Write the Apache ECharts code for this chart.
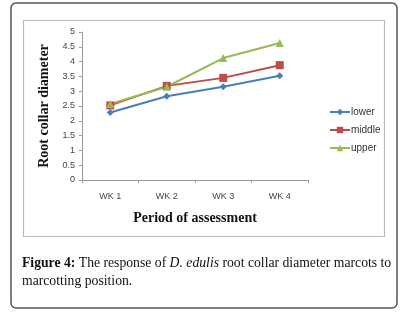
<!DOCTYPE html>
<html>
<head>
<meta charset="utf-8">
<script src="https://cdn.jsdelivr.net/npm/echarts@6/dist/echarts.min.js"></script>
<style>
html, body { margin: 0; padding: 0; background: #fff; }
#chart { width: 402px; height: 314px; }
</style>
</head>
<body>
<div id="chart"></div>
<script>
var weeks = ['WK 1', 'WK 2', 'WK 3', 'WK 4'];
var lowerVals = [2.28, 2.83, 3.15, 3.52];
var middleVals = [2.52, 3.18, 3.45, 3.88];
var upperVals = [2.57, 3.15, 4.12, 4.63];

function makeSeries(name, data, color, symbol, size) {
    return {
        name: name,
        type: 'line',
        data: data,
        symbol: symbol,
        symbolSize: size,
        lineStyle: { color: color, width: 2 },
        itemStyle: { color: color },
        emphasis: { disabled: true }
    };
}

var chart = echarts.init(document.getElementById('chart'));
var option = {
    animation: false,
    textStyle: { fontFamily: 'Liberation Sans' },
    graphic: [
        {
            type: 'rect',
            shape: { x: 11, y: 3, width: 386, height: 305, r: 5 },
            style: { fill: 'none', stroke: '#555', lineWidth: 1.5 },
            z: -1
        },
        {
            type: 'rect',
            shape: { x: 23.5, y: 20.5, width: 361, height: 216 },
            style: { fill: 'none', stroke: '#bbb', lineWidth: 1.2 },
            z: -1
        },
        {
            type: 'text',
            left: 22,
            top: 254,
            style: {
                text: '{b|Figure 4:} The response of {i|D. edulis} root collar diameter marcots to\nmarcotting position.',
                fontFamily: 'Liberation Serif',
                fontSize: 13.7,
                lineHeight: 18,
                fill: '#111',
                rich: {
                    b: { fontFamily: 'Liberation Serif', fontSize: 13.7, fontWeight: 'bold', fill: '#111' },
                    i: { fontFamily: 'Liberation Serif', fontSize: 13.7, fontStyle: 'italic', fill: '#111' }
                }
            }
        }
    ],
    legend: {
        orient: 'vertical',
        left: 324,
        top: 102,
        itemWidth: 20,
        itemHeight: 8,
        itemGap: 8,
        textStyle: { fontSize: 10, color: '#333', padding: [0, 0, 0, -4] },
        data: ['lower', 'middle', 'upper']
    },
    grid: { left: 82, top: 32, width: 226, height: 148 },
    xAxis: {
        type: 'category',
        data: weeks,
        name: 'Period of assessment',
        nameLocation: 'middle',
        nameGap: 31,
        nameTextStyle: { fontFamily: 'Liberation Serif', fontWeight: 'bold', fontSize: 14, color: '#111' },
        axisLine: { lineStyle: { color: '#999' } },
        axisTick: { show: true, length: 3, lineStyle: { color: '#999' } },
        axisLabel: { fontSize: 9, color: '#444', margin: 12 }
    },
    yAxis: {
        type: 'value',
        min: 0,
        max: 5,
        interval: 0.5,
        name: 'Root collar diameter',
        nameLocation: 'middle',
        nameGap: 29,
        nameTextStyle: { fontFamily: 'Liberation Serif', fontWeight: 'bold', fontSize: 14, color: '#111' },
        axisLine: { show: true, lineStyle: { color: '#999' } },
        axisTick: { show: true, length: 3, lineStyle: { color: '#999' } },
        splitLine: { show: false },
        axisLabel: { fontSize: 9, color: '#444', margin: 7 }
    },
    series: [
        makeSeries('lower', lowerVals, '#4A7EBB', 'diamond', 7),
        makeSeries('middle', middleVals, '#BE4B48', 'rect', 8),
        makeSeries('upper', upperVals, '#98B954', 'triangle', 8)
    ]
};
chart.setOption(option);
</script>
</body>
</html>
